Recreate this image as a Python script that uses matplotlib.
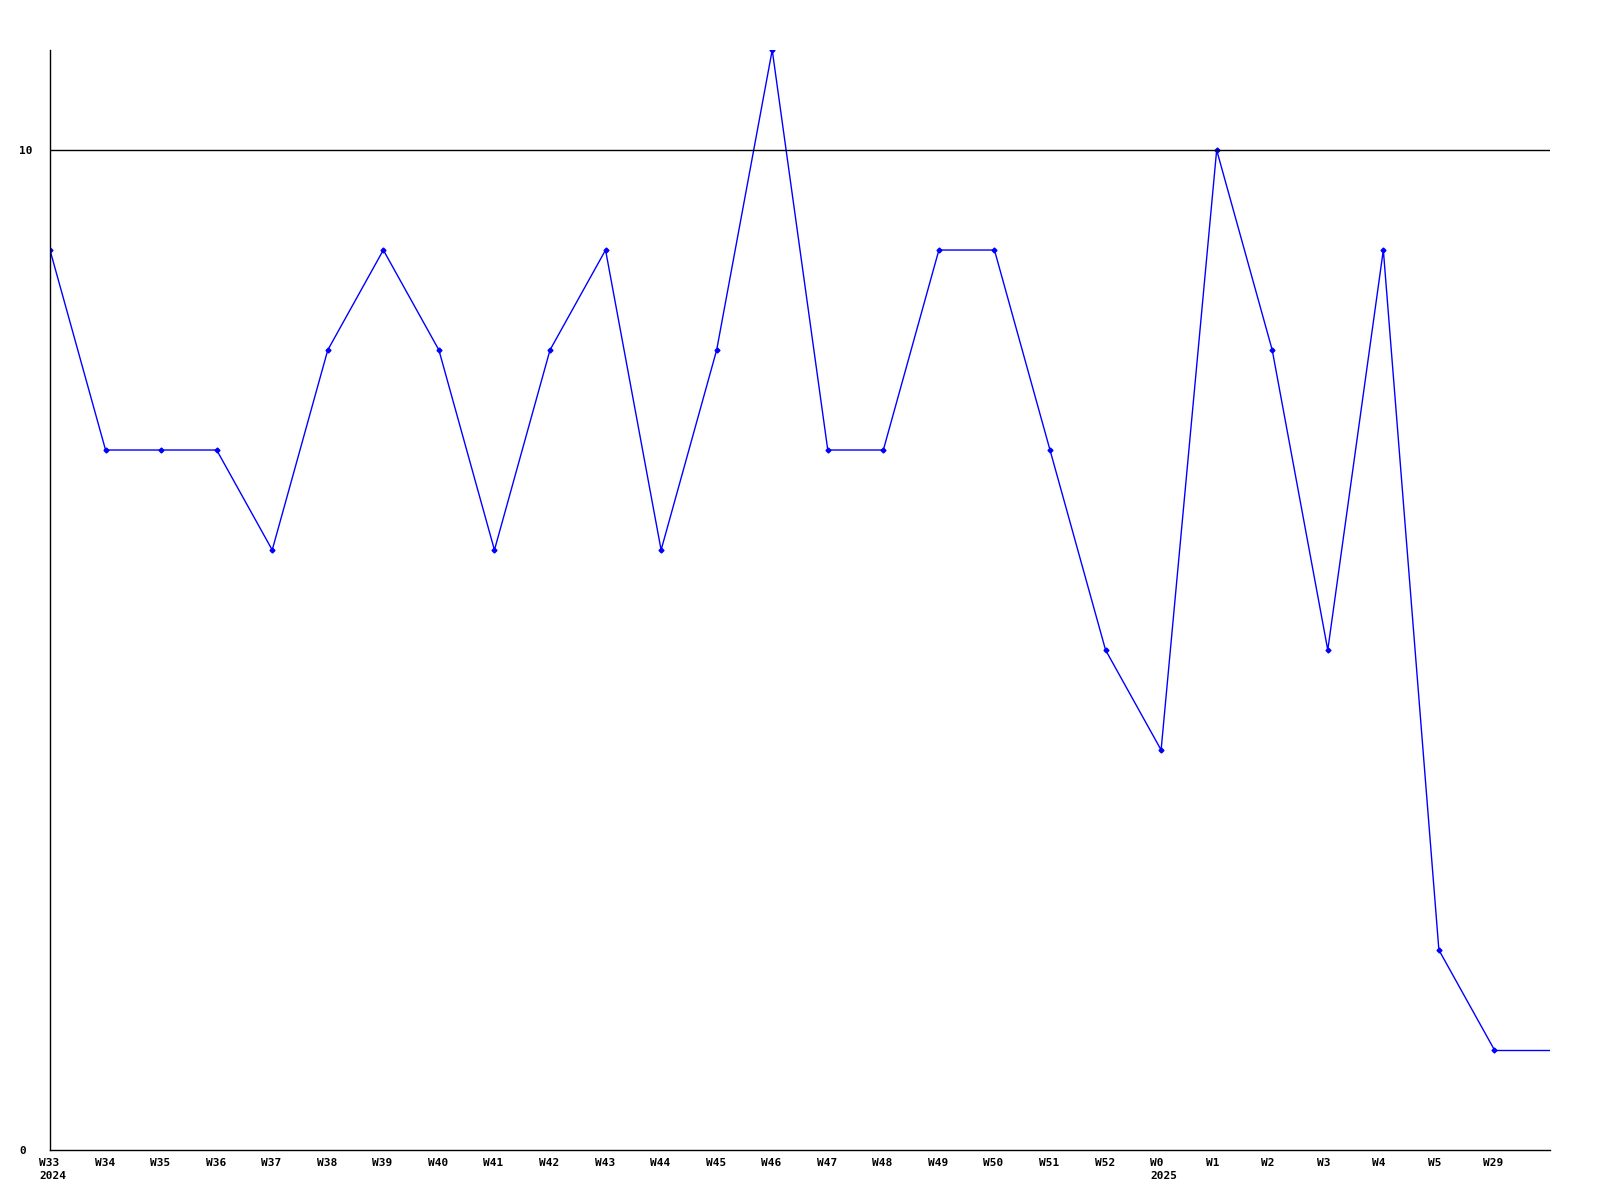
import matplotlib.pyplot as plt
import matplotlib.transforms as mtransforms

weeks = ['W33', 'W34', 'W35', 'W36', 'W37', 'W38', 'W39', 'W40', 'W41', 'W42',
         'W43', 'W44', 'W45', 'W46', 'W47', 'W48', 'W49', 'W50', 'W51', 'W52',
         'W0', 'W1', 'W2', 'W3', 'W4', 'W5', 'W29']
years = {'W33': '2024', 'W0': '2025'}
values = [9, 7, 7, 7, 6, 8, 9, 8, 6, 8,
          9, 6, 8, 11, 7, 7, 9, 9, 7, 5,
          4, 10, 8, 5, 9, 2, 1]

fig = plt.figure(figsize=(16, 12), dpi=100)
ax = fig.add_axes([0.03125, 0.0417, 0.9375, 0.9166])

x = list(range(len(values)))
# last value carried to the right edge
ax.plot([x[-1], x[-1] + 1], [values[-1], values[-1]], color='#0000ff', lw=1)
ax.plot(x, values, color='#0000ff', lw=1, marker='D', markersize=2.5)

ax.axhline(10, color='black', lw=1)

ax.set_xlim(0, len(values))
ax.set_ylim(0, 11)

labels = [w + ('\n' + years[w] if w in years else '') for w in weeks]
ax.set_xticks(x)
ax.set_xticklabels(labels, family='DejaVu Sans Mono', fontweight='bold',
                   fontsize=8, va='top', ha='left', linespacing=1.3)
ax.set_yticks([0, 10])
ax.set_yticklabels(['0', '10'], family='DejaVu Sans Mono', fontweight='bold',
                   fontsize=8, ha='left')
ax.tick_params(length=0)
ax.tick_params(axis='x', pad=6)
ax.tick_params(axis='y', pad=0)

# labels start a little left of their points, like the source
shift_x = mtransforms.ScaledTranslation(-11 / 100, 0, fig.dpi_scale_trans)
for lab in ax.get_xticklabels():
    lab.set_transform(lab.get_transform() + shift_x)
shift_y = mtransforms.ScaledTranslation(-30.5 / 100, 0, fig.dpi_scale_trans)
for lab in ax.get_yticklabels():
    lab.set_transform(lab.get_transform() + shift_y)

for s in ['top', 'right']:
    ax.spines[s].set_visible(False)
for s in ['left', 'bottom']:
    ax.spines[s].set_linewidth(1)

fig.savefig('out.png', dpi=100)
